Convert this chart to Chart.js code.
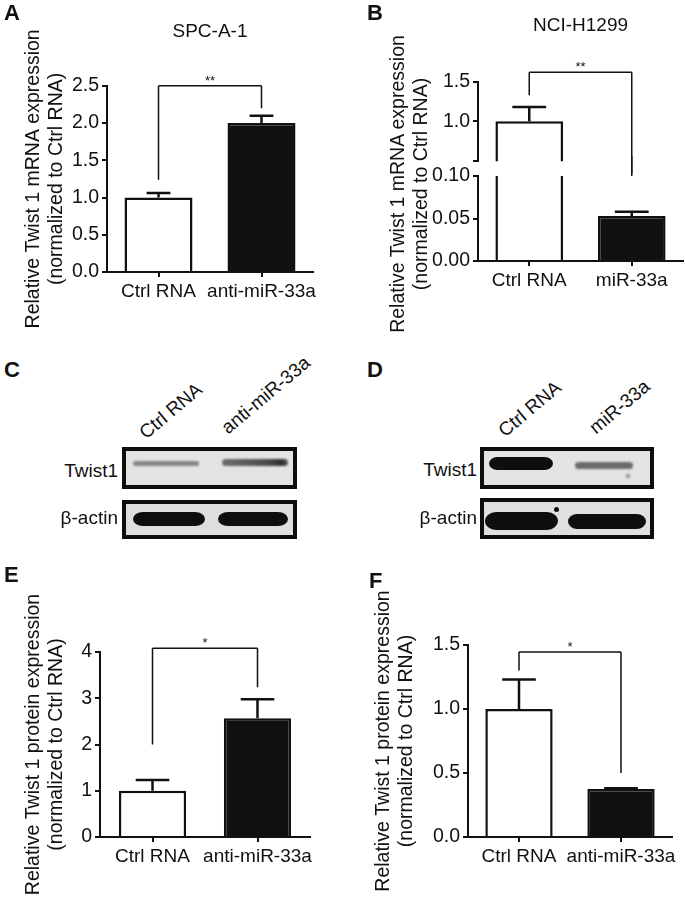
<!DOCTYPE html>
<html lang="en">
<head>
<meta charset="UTF-8">
<title>Twist1 and miR-33a</title>
<script src="https://cdn.jsdelivr.net/npm/chart.js@4.4.1/dist/chart.umd.min.js"></script>
<style>
  html, body { margin: 0; background: #fff; }
  #fig { position: relative; width: 685px; height: 898px; overflow: hidden;
         font-family: 'Liberation Sans', Arial, sans-serif; color: #111; }
  #fig canvas, #fig .abs { position: absolute; }
  .letter { font-weight: bold; font-size: 22px; line-height: 1; }
  .lbl { font-size: 19px; line-height: 19px; white-space: nowrap; text-align: right; }
  .ytitle { font-size: 19.5px; line-height: 23px; text-align: center; white-space: nowrap;
            width: 340px; height: 46px; transform: rotate(-90deg); }
  .blot { box-sizing: border-box; border: 4px solid #0d0d0d; background: #e3e3e3; }
  .band { filter: blur(1px); }
  .lane { font-size: 19px; line-height: 19px; white-space: nowrap;
          transform-origin: 0 100%; transform: rotate(-40deg); }
</style>
</head>
<body>
<div id="fig">
  <canvas id="chartA" width="335" height="340" style="left:0;top:0"></canvas>
  <canvas id="chartBHigh" width="345" height="176" style="left:340px;top:0"></canvas>
  <canvas id="chartBLow" width="345" height="148" style="left:340px;top:156px"></canvas>
  <canvas id="chartE" width="335" height="338" style="left:0;top:560px"></canvas>
  <canvas id="chartF" width="345" height="338" style="left:340px;top:560px"></canvas>

  <div class="abs letter" style="left:4px;top:2px">A</div>
  <div class="abs letter" style="left:367px;top:2px">B</div>
  <div class="abs letter" style="left:4px;top:359px">C</div>
  <div class="abs letter" style="left:367px;top:359px">D</div>
  <div class="abs letter" style="left:4px;top:564px">E</div>
  <div class="abs letter" style="left:369px;top:570px">F</div>

  <!-- y title of the broken-axis panel B (spans both canvases) -->
  <div class="abs ytitle" style="left:239px;top:161px">Relative Twist 1 mRNA expression<br>(normalized to Ctrl RNA)</div>

  <!-- C: western blot -->
  <div class="abs lane" id="laneC0" style="left:148px;top:423px"></div>
  <div class="abs lane" id="laneC1" style="left:230px;top:418px"></div>
  <div class="abs lbl" style="right:567px;top:461px">Twist1</div>
  <div class="abs lbl" style="right:567px;top:508px">β-actin</div>
  <div class="abs blot" style="left:122px;top:447px;width:175px;height:42px"></div>
  <div class="abs blot" style="left:122px;top:500px;width:175px;height:39px;background:#dedede"></div>
  <div class="abs band" style="left:133px;top:461px;width:66px;height:5px;border-radius:3px;background:#858585"></div>
  <div class="abs band" style="left:222px;top:459px;width:66px;height:7px;border-radius:4px;background:linear-gradient(90deg,#6e6e6e,#4a4a4a 70%,#2e2e2e 90%,#5a5a5a)"></div>
  <div class="abs band" style="left:133px;top:512px;width:72px;height:14px;border-radius:10px/7px;background:#0e0e0e;filter:blur(0.5px)"></div>
  <div class="abs band" style="left:218px;top:512px;width:70px;height:14px;border-radius:10px/7px;background:#0e0e0e;filter:blur(0.5px)"></div>

  <!-- D: western blot -->
  <div class="abs lane" id="laneD0" style="left:507px;top:421px"></div>
  <div class="abs lane" id="laneD1" style="left:598px;top:418px"></div>
  <div class="abs lbl" style="right:208px;top:460px">Twist1</div>
  <div class="abs lbl" style="right:208px;top:508px">β-actin</div>
  <div class="abs blot" style="left:480px;top:447px;width:174px;height:42px"></div>
  <div class="abs blot" style="left:480px;top:498px;width:174px;height:41px;background:#e0e0e0"></div>
  <div class="abs band" style="left:489px;top:457px;width:64px;height:13px;border-radius:9px/7px;background:#0e0e0e;filter:blur(0.6px)"></div>
  <div class="abs band" style="left:575px;top:462px;width:58px;height:7px;border-radius:4px;background:#6a6a6a"></div>
  <div class="abs band" style="left:626px;top:474px;width:4px;height:4px;border-radius:50%;background:#8a8a8a"></div>
  <div class="abs band" style="left:485px;top:512px;width:73px;height:18px;border-radius:11px/9px;background:#0e0e0e;filter:blur(0.5px)"></div>
  <div class="abs band" style="left:568px;top:514px;width:78px;height:15px;border-radius:10px/8px;background:#0e0e0e;filter:blur(0.5px)"></div>
  <div class="abs band" style="left:554px;top:507px;width:5px;height:5px;border-radius:50%;background:#111;filter:none"></div>
</div>

<script>
// ---- A: SPC-A-1, Twist1 mRNA ----
const groupsA = ['Ctrl RNA', 'anti-miR-33a'];
const meanA = [1.0, 2.0];
const semA = [0.062, 0.097];
const ticksA = [0, 0.5, 1.0, 1.5, 2.0, 2.5];
const starsA = '**';
const bracketA = [2.5, 1.24, 2.2];   // bracket level, left leg end, right leg end

// ---- B: NCI-H1299, Twist1 mRNA (broken axis) ----
const groupsB = ['Ctrl RNA', 'miR-33a'];
const meanB = [1.0, 0.053];
const semB = [0.18, 0.005];
const ticksBLow = [0, 0.05, 0.10];
const ticksBHigh = [1.0, 1.5];
const breakB = [0.10, 0.49];         // top of lower segment, bottom of upper segment
const starsB = '**';
const bracketB = [1.62, 1.33, 0.103];

// ---- C / D: western blot lanes ----
const lanesC = ['Ctrl RNA', 'anti-miR-33a'];
const lanesD = ['Ctrl RNA', 'miR-33a'];

// ---- E: SPC-A-1, Twist1 protein ----
const groupsE = ['Ctrl RNA', 'anti-miR-33a'];
const meanE = [1.0, 2.57];
const semE = [0.23, 0.41];
const ticksE = [0, 1, 2, 3, 4];
const starsE = '*';
const bracketE = [4.08, 2.0, 3.24];

// ---- F: NCI-H1299, Twist1 protein ----
const groupsF = ['Ctrl RNA', 'anti-miR-33a'];
const meanF = [1.0, 0.375];
const semF = [0.23, 0.005];
const ticksF = [0, 0.5, 1.0, 1.5];
const starsF = '*';
const bracketF = [1.445, 1.3, 0.5];

const yTitleMRNA = ['Relative Twist 1 mRNA expression', '(normalized to Ctrl RNA)'];
const yTitleProt = ['Relative Twist 1 protein expression', '(normalized to Ctrl RNA)'];

document.getElementById('laneC0').textContent = lanesC[0];
document.getElementById('laneC1').textContent = lanesC[1];
document.getElementById('laneD0').textContent = lanesD[0];
document.getElementById('laneD1').textContent = lanesD[1];

Chart.defaults.font.family = "'Liberation Sans', Arial, sans-serif";
Chart.defaults.color = '#111';

// GraphPad-style error bars (upper half only)
const errorBars = {
    id: 'errorBars',
    afterDatasetsDraw(chart, args, opts) {
        if (!opts.sem) return;
        const y = chart.scales.y;
        const means = chart.data.datasets[0].data;
        const ctx = chart.ctx;
        ctx.save();
        ctx.strokeStyle = '#111';
        ctx.lineWidth = 2.5;
        chart.getDatasetMeta(0).data.forEach((bar, i) => {
            if (means[i] > y.max || means[i] < y.min) return;
            const top = y.getPixelForValue(means[i] + opts.sem[i]);
            const half = bar.width * opts.cap / 2;
            ctx.beginPath();
            ctx.moveTo(bar.x, bar.y);
            ctx.lineTo(bar.x, top);
            ctx.moveTo(bar.x - half, top);
            ctx.lineTo(bar.x + half, top);
            ctx.stroke();
        });
        ctx.restore();
    }
};

// significance bracket between the two groups
const sigBracket = {
    id: 'sigBracket',
    afterDatasetsDraw(chart, args, opts) {
        if (!opts.levels) return;
        const x = chart.scales.x, y = chart.scales.y;
        const ctx = chart.ctx;
        const py = v => Math.max(0, Math.min(chart.height, y.getPixelForValue(v)));
        const yb = py(opts.levels[0]);
        const xs = [x.getPixelForValue(0), x.getPixelForValue(1)];
        const inside = yb > 0 && yb < chart.height;
        ctx.save();
        ctx.strokeStyle = '#111';
        ctx.lineWidth = 1.5;
        ctx.beginPath();
        xs.forEach((xx, i) => {
            const ye = py(opts.levels[i + 1]);
            if (ye !== yb) { ctx.moveTo(xx, yb); ctx.lineTo(xx, ye); }
        });
        if (inside) { ctx.moveTo(xs[0], yb); ctx.lineTo(xs[1], yb); }
        ctx.stroke();
        if (inside) {
            ctx.fillStyle = '#111';
            ctx.font = "13px 'Liberation Sans', Arial, sans-serif";
            ctx.textAlign = 'center';
            ctx.fillText(opts.text, (xs[0] + xs[1]) / 2, yb - 1);
        }
        ctx.restore();
    }
};

Chart.register(errorBars, sigBracket);

function makeChart(id, p) {
    return new Chart(document.getElementById(id), {
        type: 'bar',
        data: {
            labels: p.labels,
            datasets: [{
                data: p.means,
                backgroundColor: ['#ffffff', '#111111'],
                borderColor: '#111111',
                borderWidth: 2.5,
                borderSkipped: 'start',
                categoryPercentage: 1,
                barPercentage: p.barPct,
                clip: 0
            }]
        },
        options: {
            responsive: false,
            animation: false,
            events: [],
            layout: { padding: p.padding },
            plugins: {
                legend: { display: false },
                tooltip: { enabled: false },
                title: p.title
                    ? { display: true, text: p.title, fullSize: false, color: '#111',
                        font: { size: 19, weight: 'normal' }, padding: { top: 0, bottom: p.titleGap } }
                    : { display: false },
                errorBars: { sem: p.sem, cap: p.cap },
                sigBracket: { levels: p.bracket, text: p.stars }
            },
            scales: {
                x: {
                    display: p.showX !== false,
                    offset: true,
                    z: 1,
                    grid: { offset: false, drawOnChartArea: false, tickLength: 5, lineWidth: 2, color: '#111' },
                    border: { color: '#111', width: 2 },
                    ticks: { color: '#111', font: { size: 19 }, padding: 3, maxRotation: 0, autoSkip: false },
                    afterFit: s => { if (s.options.display) s.height = 33; }
                },
                y: {
                    min: p.min,
                    max: p.max,
                    afterBuildTicks: s => { s.ticks = p.ticks.map(v => ({ value: v })); },
                    grid: { drawOnChartArea: false, tickLength: 5, lineWidth: 2, color: '#111' },
                    border: { color: '#111', width: 2 },
                    ticks: { color: '#111', font: { size: 19.5 }, padding: 3, autoSkip: false, callback: p.fmt },
                    title: p.yTitle
                        ? { display: true, text: p.yTitle, color: '#111', font: { size: 19.5, lineHeight: 1.18 },
                            padding: { top: p.yTitlePad, bottom: 0 } }
                        : { display: false },
                    afterFit: s => { s.width = p.yWidth; }
                }
            }
        }
    });
}

makeChart('chartA', {
    labels: groupsA, means: meanA, sem: semA, cap: 0.35, barPct: 0.66,
    min: 0, max: 2.5, ticks: ticksA, fmt: v => v.toFixed(1),
    bracket: bracketA, stars: starsA,
    title: 'SPC-A-1', titleGap: 43,
    yTitle: yTitleMRNA, yTitlePad: 22, yWidth: 107,
    padding: { left: 0, top: 20, right: 22, bottom: 35 }
});

makeChart('chartBHigh', {
    labels: groupsB, means: meanB, sem: semB, cap: 0.5, barPct: 0.66,
    min: breakB[1], max: 1.5, ticks: [breakB[1], ...ticksBHigh],
    fmt: v => (v === breakB[1] ? '' : v.toFixed(1)),
    bracket: bracketB, stars: starsB,
    title: 'NCI-H1299', titleGap: 45,
    showX: false, yWidth: 138,
    padding: { left: 0, top: 14, right: 2, bottom: 13 }
});

makeChart('chartBLow', {
    labels: groupsB, means: meanB, sem: semB, cap: 0.5, barPct: 0.66,
    min: 0, max: breakB[0], ticks: ticksBLow, fmt: v => v.toFixed(2),
    bracket: bracketB, stars: starsB,
    yWidth: 138,
    padding: { left: 0, top: 20, right: 2, bottom: 10 }
});

makeChart('chartE', {
    labels: groupsE, means: meanE, sem: semE, cap: 0.5, barPct: 0.64,
    min: 0, max: 4, ticks: ticksE, fmt: v => String(v),
    bracket: bracketE, stars: starsE,
    yTitle: yTitleProt, yTitlePad: 22, yWidth: 100,
    padding: { left: 0, top: 92, right: 25, bottom: 28 }
});

makeChart('chartF', {
    labels: groupsF, means: meanF, sem: semF, cap: 0.5, barPct: 0.66,
    min: 0, max: 1.5, ticks: ticksF, fmt: v => v.toFixed(1),
    bracket: bracketF, stars: starsF,
    yTitle: yTitleProt, yTitlePad: 32, yWidth: 128,
    padding: { left: 0, top: 85, right: 13, bottom: 28 }
});
</script>
</body>
</html>
